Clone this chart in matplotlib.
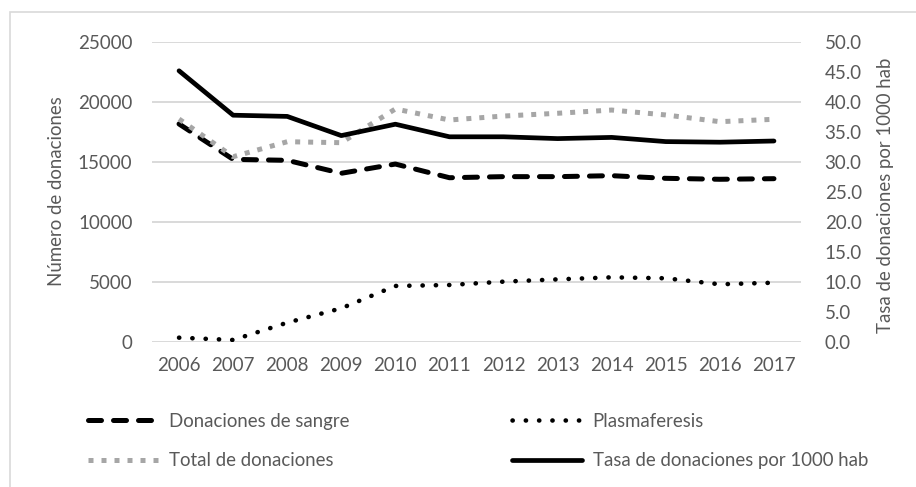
import matplotlib

matplotlib.use("Agg")

import matplotlib.pyplot as plt  # noqa: E402
from matplotlib.patches import Rectangle  # noqa: E402
import matplotlib.ticker as mticker  # noqa: E402

years = ["2006", "2007", "2008", "2009", "2010", "2011",
         "2012", "2013", "2014", "2015", "2016", "2017"]
donaciones_sangre = [18170, 15220, 15140, 14060, 14830, 13690,
                     13780, 13780, 13860, 13640, 13560, 13610]
plasmaferesis = [360, 170, 1610, 2810, 4670, 4750,
                 5030, 5220, 5390, 5310, 4810, 4940]
total_donaciones = [18580, 15440, 16690, 16610, 19420, 18500,
                    18830, 19060, 19330, 18920, 18360, 18560]
tasa_1000_hab = [45.2, 37.8, 37.6, 34.4, 36.3, 34.2,
                 34.2, 33.9, 34.1, 33.4, 33.3, 33.5]

TEXT = "#595959"
GRID = "#d9d9d9"
FONT = "Lato"
W, H = 916, 487
TICK_SIZE = 13.5
LABEL_SIZE = 13.4

plt.rcParams["font.family"] = [FONT, "DejaVu Sans"]

fig = plt.figure(figsize=(W / 100, H / 100), dpi=100)
ax = fig.add_axes([152 / W, 1 - 342 / H, (801 - 152) / W, 300 / H])
ax2 = ax.twinx()

x = range(len(years))
l_sangre, = ax.plot(x, donaciones_sangre, color="black", lw=3.6,
                    dashes=(2.6, 2.4), dash_capstyle="round",
                    solid_joinstyle="round", label="Donaciones de sangre")
l_total, = ax.plot(x, total_donaciones, color="#a6a6a6", lw=3.6,
                   dashes=(1.0, 1.6), dash_capstyle="butt",
                   label="Total de donaciones")
l_plasma, = ax.plot(x, plasmaferesis, color="black", lw=3.3,
                    dashes=(0.05, 2.85), dash_capstyle="round",
                    label="Plasmaferesis")
l_tasa, = ax2.plot(x, tasa_1000_hab, color="black", lw=3.4,
                   solid_capstyle="round", solid_joinstyle="round",
                   label="Tasa de donaciones por 1000 hab")

ax.set_xlim(-0.5, len(years) - 0.5)
ax.set_ylim(0, 25000)
ax.set_yticks(range(0, 25001, 5000))
ax2.set_ylim(0, 50)
ax2.set_yticks([i * 5 for i in range(11)])
ax2.yaxis.set_major_formatter(mticker.FormatStrFormatter("%.1f"))
ax.set_xticks(list(x))
ax.set_xticklabels(years)

ax.grid(True, axis="y", color=GRID, lw=1.4)
ax.set_axisbelow(True)
for a in (ax, ax2):
    for s in a.spines.values():
        s.set_visible(False)
ax.tick_params(axis="both", length=0, labelsize=TICK_SIZE, labelcolor=TEXT)
ax.tick_params(axis="y", pad=14)
ax.tick_params(axis="x", pad=11)
ax2.tick_params(axis="y", length=0, labelsize=TICK_SIZE, labelcolor=TEXT,
                pad=17)

# axis titles, positioned in figure pixels
ax.set_ylabel("Número de donaciones", fontsize=LABEL_SIZE, color=TEXT)
ax.yaxis.set_label_coords(65 / W, 1 - 191 / H, transform=fig.transFigure)
ax2.set_ylabel("Tasa de donaciones por 1000 hab", fontsize=LABEL_SIZE,
               color=TEXT)
ax2.yaxis.set_label_coords(877 / W, 1 - 195 / H, transform=fig.transFigure)

# legend in two columns, placed as two stacked blocks
leg_kw = dict(frameon=False, fontsize=LABEL_SIZE, labelcolor=TEXT,
              loc="center left", handlelength=3.75, handletextpad=0.58,
              labelspacing=1.2, borderpad=0, borderaxespad=0)
fig.legend([l_sangre, l_total], [l_sangre.get_label(), l_total.get_label()],
           bbox_to_anchor=(88 / W, 1 - 441 / H), **leg_kw)
fig.legend([l_plasma, l_tasa], [l_plasma.get_label(), l_tasa.get_label()],
           bbox_to_anchor=(512 / W, 1 - 441 / H), **leg_kw)

# light chart-area border
fig.add_artist(Rectangle((10 / W, -0.1), 1.0, 1.1 - 12 / H,
                         transform=fig.transFigure, fill=False,
                         edgecolor=GRID, lw=1.2))

fig.savefig("out.png", dpi=100)
